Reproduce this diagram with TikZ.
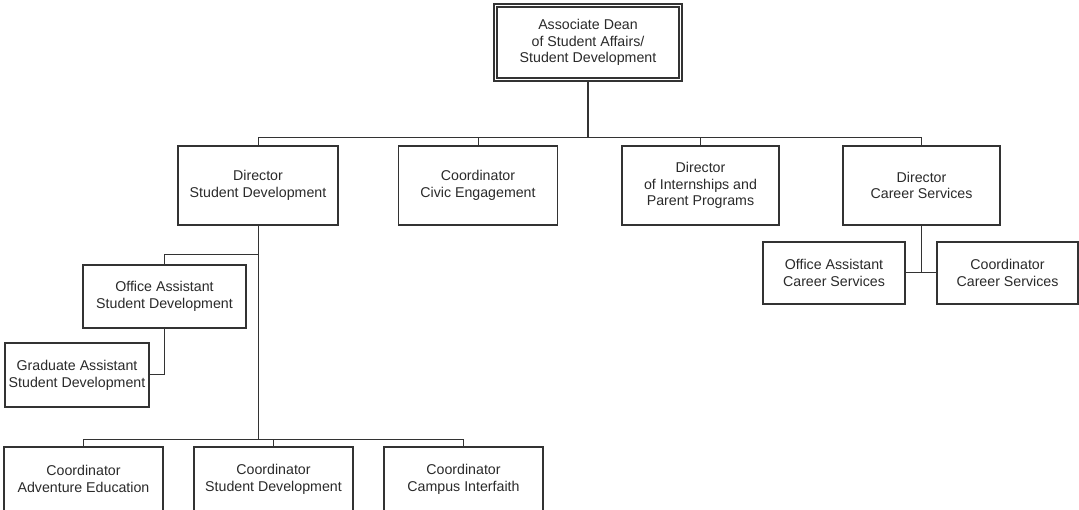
\documentclass[tikz,border=0pt]{standalone}
\usepackage{fontspec}
\setmainfont{Liberation Sans}
\definecolor{boxline}{HTML}{333333}
\definecolor{txt}{HTML}{2A2A2A}
\begin{document}
\begin{tikzpicture}[x=1pt,y=-1pt,
  box/.style={draw=boxline, line width=1.2pt, fill=white, align=center, inner sep=0pt,
    text=txt, font=\fontsize{14.2}{16.8}\selectfont},
  lvl/.style={box, minimum width=159pt, minimum height=79pt},
  bottombox/.style={box, minimum width=159pt, minimum height=64pt},
  small/.style={box, minimum width=142pt, minimum height=62pt},
  conn/.style={draw=boxline, line width=1pt},
  thick conn/.style={draw=boxline, line width=1.8pt}]
\useasboundingbox (0,0) rectangle (1079,510);
\clip (0,0) rectangle (1079,510);
\fill[white] (0,0) rectangle (1079,510);
\coordinate (bus) at (0,138);
\coordinate (bus2) at (0,439);
\coordinate (bus3) at (0,255);
% nodes
\node[box, minimum width=185pt, minimum height=74pt, double=white, double distance=1.6pt, line width=1.3pt] (top) at (588,42.5)
  {Associate Dean\\of Student Affairs/\\Student Development};
\node[lvl, minimum width=160pt] (dsd) at (258,185.5) {Director\\Student Development};
\node[lvl] (ce) at (478,185.5) {Coordinator\\Civic Engagement};
\node[lvl, minimum width=157pt] (di) at (700.5,185.5) {Director\\of Internships and\\Parent Programs};
\node[lvl, minimum width=157pt] (dcs) at (921.5,185.5) {Director\\Career Services};
\node[small] (oacs) at (834,273) {Office Assistant\\Career Services};
\node[small, minimum width=141pt] (ccs) at (1007.5,273) {Coordinator\\Career Services};
\node[small, minimum width=163pt, minimum height=63pt] (oasd) at (164.5,296.5) {Office Assistant\\Student Development};
\node[small, minimum width=144pt, minimum height=64pt] (gasd) at (77,375) {Graduate Assistant\\Student Development};
\node[bottombox] (cae) at (83.5,479) {Coordinator\\Adventure Education};
\node[bottombox] (csd) at (273.5,479) {Coordinator\\Student Development};
\node[bottombox] (cci) at (463.5,479) {Coordinator\\Campus Interfaith};
% connectors
\draw[thick conn] (top.south) -- (top.south |- bus);
\draw[conn] (dsd.north) |- (dcs.north |- bus) -- (dcs.north);
\draw[conn] (ce.north) -- (ce.north |- bus);
\draw[conn] (di.north) -- (di.north |- bus);
\draw[conn] (dsd.south) -- (dsd.south |- bus2);
\draw[conn] (cae.north) |- (cci.north |- bus2) -- (cci.north);
\draw[conn] (csd.north) -- (csd.north |- bus2);
\draw[conn] (dsd.south |- bus3) -| (oasd.north);
\draw[conn] (oasd.south) |- (gasd.east);
\draw[conn] (dcs.south) -- (dcs.south |- oacs.east);
\draw[conn] (oacs.east) -- (ccs.west);
\end{tikzpicture}
\end{document}
